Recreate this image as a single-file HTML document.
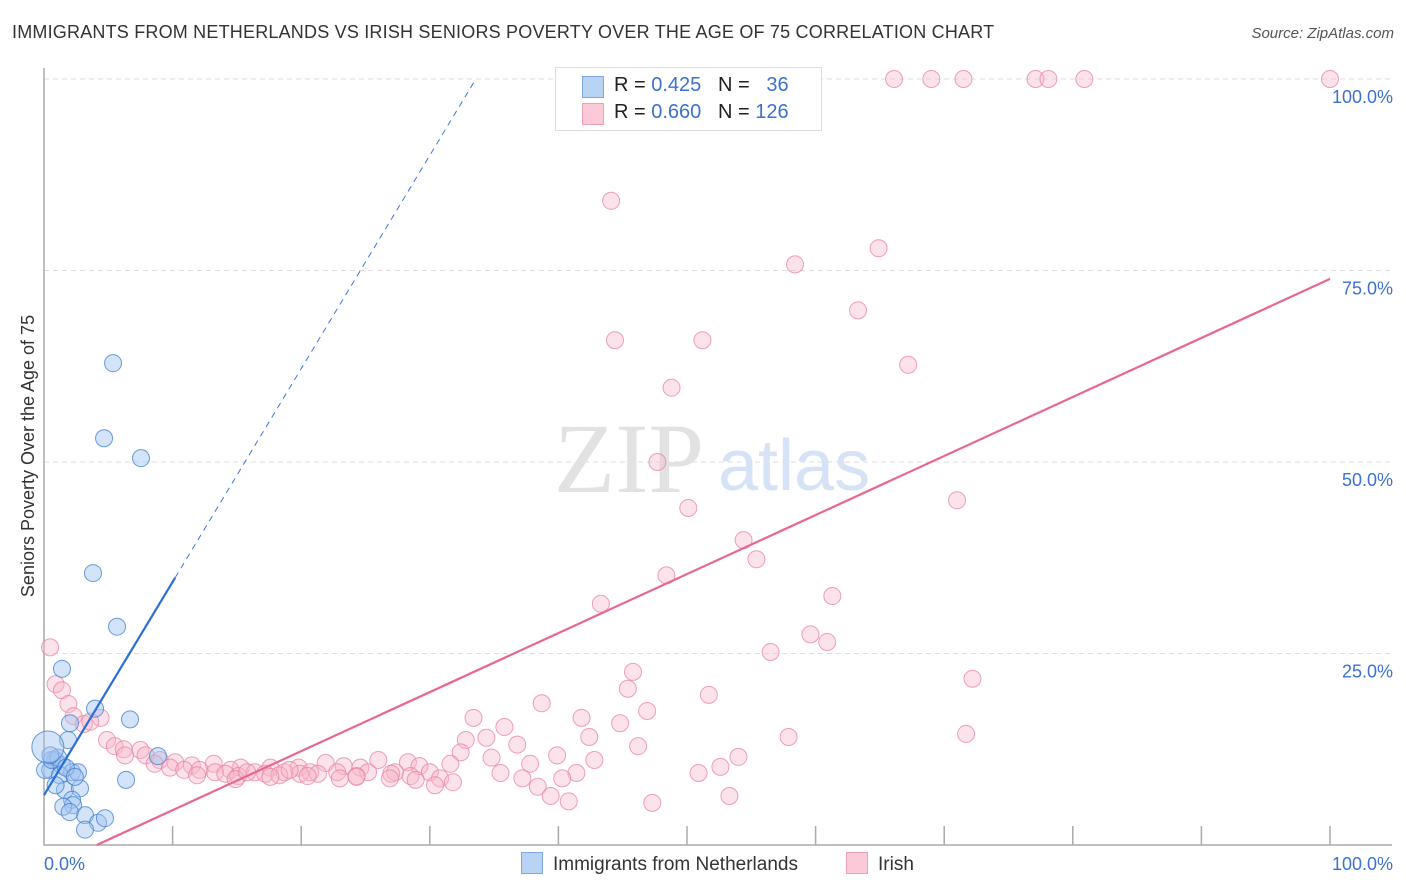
<!DOCTYPE html>
<html><head><meta charset="utf-8"><style>
body{margin:0;background:#fff;font-family:"Liberation Sans",sans-serif}
#wrap{position:relative;width:1406px;height:892px}
.t{position:absolute;white-space:nowrap}
</style></head><body>
<div id="wrap">
<div class="t" style="left:12px;top:22px;font-size:18px;letter-spacing:0.2px;color:#333">IMMIGRANTS FROM NETHERLANDS VS IRISH SENIORS POVERTY OVER THE AGE OF 75 CORRELATION CHART</div>
<div class="t" style="right:12px;top:25px;font-size:15px;font-style:italic;color:#555">Source: ZipAtlas.com</div>
<svg id="svg" width="1406" height="892" style="position:absolute;left:0;top:0"></svg>
</div>
<script>
const xTicks=[0,10,20,30,40,50,60,70,80,90,100];
const yGrid=[25,50,75,100];
const yLabels=["25.0%","50.0%","75.0%","100.0%"];
const blueX=[5.37,4.67,7.54,3.81,5.68,1.40,3.97,6.69,2.02,1.87,0.86,0.47,1.40,2.18,2.64,0.08,1.24,1.63,2.80,2.18,2.26,3.19,4.20,4.74,3.19,6.38,8.86,0.6,1.1,1.7,0.9,2.4,1.5,2.0,0.5];
const blueY=[62.9,53.1,50.5,35.5,28.5,23.0,17.8,16.4,15.9,13.7,11.1,9.8,10.4,9.5,9.5,9.8,9.1,7.2,7.4,5.9,5.2,3.9,2.9,3.5,2.0,8.5,11.6,11.1,11.4,10.1,7.8,8.9,5.0,4.3,11.7];
const pinkX=[66.1,69.0,71.5,77.1,78.1,80.9,100,44.1,64.9,58.4,63.3,44.4,51.2,67.2,48.8,47.7,71.0,50.1,54.4,55.4,48.4,61.3,43.3,59.6,60.9,56.5,0.47,45.8,72.2,0.9,1.4,45.4,51.7,1.9,38.7,46.9,2.3,4.4,41.8,33.4,44.8,35.8,3.1,3.6,71.7,57.9,42.4,34.4,32.8,4.9,36.8,46.2,5.5,6.2,7.5,32.4,39.9,54.0,6.3,7.9,34.8,26.0,28.3,21.9,42.8,9.0,10.2,8.6,11.5,13.2,15.3,17.6,19.8,23.3,24.6,29.2,31.6,37.8,52.6,9.8,10.9,12.1,14.5,16.4,18.7,20.7,22.8,25.2,27.3,30.0,13.3,14.1,17.2,18.3,19.9,21.3,24.3,27.0,28.5,35.5,41.4,50.9,11.9,15.1,17.6,20.5,23.0,26.9,30.8,37.2,40.3,14.9,28.9,24.3,30.4,31.8,38.4,39.4,40.8,47.3,53.3,15.8,19.1];
const pinkY=[100,100,100,100,100,100,100,84.1,77.9,75.8,69.8,65.9,65.9,62.7,59.7,50.0,45.0,44.0,39.8,37.3,35.2,32.5,31.5,27.5,26.5,25.2,25.8,22.6,21.7,21.0,20.2,20.4,19.6,18.4,18.5,17.5,16.8,16.6,16.6,16.6,15.9,15.4,15.8,16.1,14.5,14.1,14.1,14.0,13.7,13.7,13.1,12.9,12.9,12.5,12.4,12.1,11.7,11.5,11.7,11.7,11.4,11.1,10.8,10.7,11.1,11.1,10.8,10.6,10.4,10.6,10.1,10.1,10.1,10.3,10.1,10.3,10.6,10.6,10.2,10.1,9.8,9.8,9.8,9.5,9.5,9.5,9.5,9.5,9.5,9.5,9.5,9.3,9.3,9.1,9.3,9.3,9.0,9.3,9.0,9.4,9.4,9.4,9.1,9.0,8.9,9.0,8.7,8.7,8.7,8.7,8.7,8.6,8.5,8.9,7.8,8.2,7.6,6.4,5.7,5.5,6.4,9.5,9.8];
const blueFit=[0,6.5,10.2,34.9];
const pinkFit=[4.1,0,100,73.9];
const X=v=>44+v*12.86, Y=v=>845-v*7.66;
const svg=document.getElementById('svg');const NS='http://www.w3.org/2000/svg';
function el(tag,attrs,txt){const e=document.createElementNS(NS,tag);for(const k in attrs)e.setAttribute(k,attrs[k]);if(txt!=null)e.textContent=txt;svg.appendChild(e);return e;}
yGrid.forEach((g,i)=>{
 const l=el('line',{x1:44,x2:1392,y1:Y(g),y2:Y(g),stroke:'#ddd','stroke-dasharray':'5,4'});
 
 
 const t=el('text',{x:1393,y:Y(g)+24,'text-anchor':'end','font-size':18,fill:'#3b72d0','font-family':'Liberation Sans'},yLabels[i]);
 
 
});
const ax=el('path',{d:'M44,68 V845 H1392',fill:'none',stroke:'#aaa','stroke-width':1.5});


xTicks.slice(1).forEach(v=>{const t=el('line',{x1:X(v),x2:X(v),y1:826,y2:845,stroke:'#aaa','stroke-width':1.5});
 
 });
const wm=el('text',{x:554,y:492,'font-size':100,fill:'#e2e2e2','font-family':'Liberation Serif'},'ZIP');


const wm2=el('text',{x:718,y:490,'font-size':72,fill:'#d6e3f6','font-family':'Liberation Sans'},'atlas');


pinkX.forEach((x,i)=>{const c=el('circle',{cx:X(x),cy:Y(pinkY[i]),r:8.5,fill:'rgba(248,182,202,0.4)',stroke:'rgba(232,130,160,0.75)','stroke-width':1});
 
 });
blueX.forEach((x,i)=>{const c=el('circle',{cx:X(x),cy:Y(blueY[i]),r:8.5,fill:'rgba(160,196,240,0.45)',stroke:'rgba(70,130,210,0.8)','stroke-width':1});
 
 });
const big=el('circle',{cx:X(0.3),cy:Y(12.8),r:16,fill:'rgba(160,196,240,0.45)',stroke:'rgba(70,130,210,0.8)'});


const bs=(blueFit[3]-blueFit[1])/(blueFit[2]-blueFit[0]);
const xEnd=(100-blueFit[1])/bs;
const bd=el('line',{x1:X(blueFit[2]),y1:Y(blueFit[3]),x2:X(xEnd),y2:Y(100),stroke:'#3b78d8','stroke-width':1,'stroke-dasharray':'6,5'});


const bl=el('line',{x1:X(blueFit[0]),y1:Y(blueFit[1]),x2:X(blueFit[2]),y2:Y(blueFit[3]),stroke:'#2a6fd6','stroke-width':2.2});


const pl=el('line',{x1:X(pinkFit[0]),y1:Y(pinkFit[1]),x2:X(pinkFit[2]),y2:Y(pinkFit[3]),stroke:'#e8678f','stroke-width':2.2});


const yt=el('text',{x:0,y:0,transform:'translate(34,456) rotate(-90)','text-anchor':'middle','font-size':18,fill:'#333','font-family':'Liberation Sans'},'Seniors Poverty Over the Age of 75');


const x0=el('text',{x:44,y:870,'font-size':18,fill:'#3b72d0','font-family':'Liberation Sans'},'0.0%');


const x1=el('text',{x:1393,y:870,'text-anchor':'end','font-size':18,fill:'#3b72d0','font-family':'Liberation Sans'},'100.0%');


</script>
<div class="t" style="left:555px;top:67px;width:265px;height:62px;border:1px solid #ddd;background:#fff;font-size:20px;color:#222">
 <div style="position:absolute;left:26px;top:8px;width:20px;height:20px;background:#b9d3f5;border:1px solid #7fa8e0"></div>
 <div style="position:absolute;left:58px;top:6px">R = <span style="color:#3b72d0">0.425</span>&nbsp;&nbsp;&nbsp;N = &nbsp;&nbsp;<span style="color:#3b72d0">36</span></div>
 <div style="position:absolute;left:26px;top:35px;width:20px;height:20px;background:#fbc9d8;border:1px solid #eea0b8"></div>
 <div style="position:absolute;left:58px;top:33px">R = <span style="color:#3b72d0">0.660</span>&nbsp;&nbsp;&nbsp;N = <span style="color:#3b72d0">126</span></div>
</div>
<div class="t" style="left:521px;top:852px;font-size:19px;color:#333"><span style="display:inline-block;width:20px;height:20px;background:#b9d3f5;border:1px solid #7fa8e0;vertical-align:-4px;margin-right:10px"></span>Immigrants from Netherlands</div>
<div class="t" style="left:846px;top:852px;font-size:19px;color:#333"><span style="display:inline-block;width:20px;height:20px;background:#fbc9d8;border:1px solid #eea0b8;vertical-align:-4px;margin-right:10px"></span>Irish</div>
</body></html>
